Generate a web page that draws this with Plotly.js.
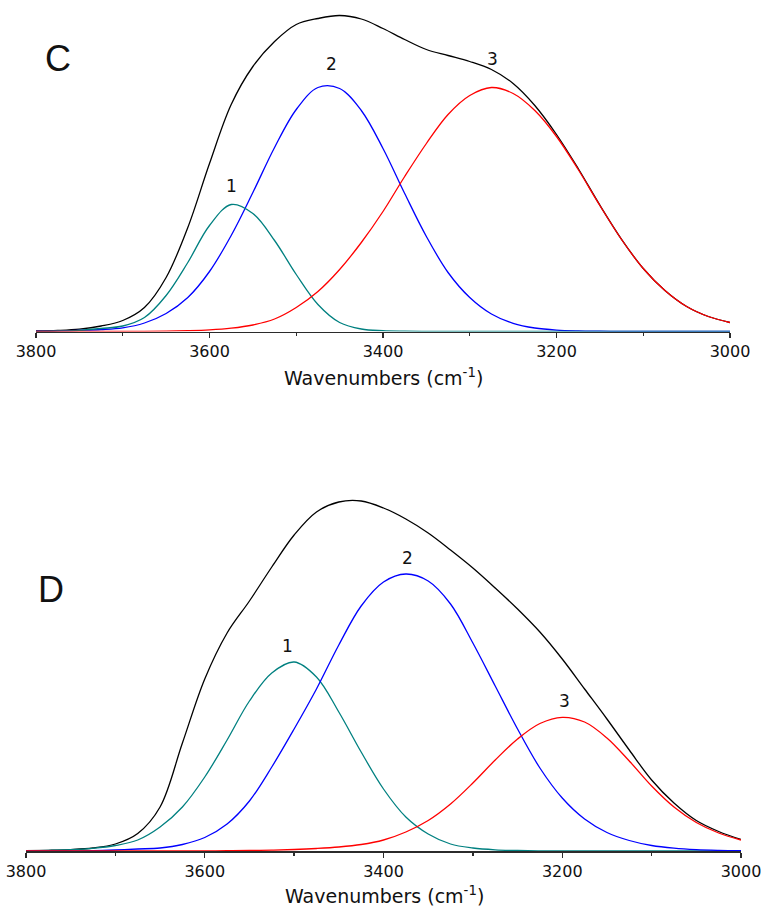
<!DOCTYPE html>
<html>
<head>
<meta charset="utf-8">
<script src="https://cdn.plot.ly/plotly-3.0.1.min.js"></script>
<style>html,body{margin:0;padding:0;background:#fff;}#chart{width:764px;height:910px;}</style>
</head>
<body>
<div id="chart"></div>
<script>
// Wavenumber samples (cm^-1)
const wavenumber = [3800,3775,3750,3725,3700,3675,3650,3625,3600,3575,3550,3525,3500,3475,3450,3425,3400,3375,3350,3325,3300,3275,3250,3225,3200,3175,3150,3125,3100,3075,3050,3025,3000];

// Panel C (arbitrary absorbance units)
const C_total = [0.5,1.1,2.4,5.5,11,24,54,104,168,227,265,290,307,313,316,312.5,303,292,282,276,270,262,248,226,197,163,126.3,92.2,63,41,25,15,9];
const C_band1 = [0.2,0.5,1.2,3,5.5,14,36,69,106,127,118,91,57,27,9,2.5,0.8,0.3,0.1,0,0,0,0,0,0,0,0,0,0,0,0,0,0];
const C_band2 = [0.3,0.6,1.2,2,3.7,8.5,18,34,60,96,139,184,222,244,243,221,183,138,95,59,34,17.5,8.2,3.5,1.4,0.6,0.3,0.1,0,0,0,0,0];
const C_band3 = [0,0,0,0.05,0.1,0.2,0.4,0.8,1.6,3.3,6.5,12.5,24,40,62,89,120,155,188,217,236,244,238,221,195,162,126,92,63,41,25,15,9];

// Panel D
const D_total = [0.3,0.7,1.4,3,7,17.5,44,108,172,218,250,284,316,339,349,350,343,332,318,301,283,263,242,219,192,162,132,101,71,48,30.5,19.5,11.5];
const D_band1 = [0.3,0.6,1.3,2.7,5.5,11,24,44,74,111,150,178,189,174,139,99,62,34,17,7,3,1.2,0.5,0.2,0.1,0,0,0,0,0,0,0,0];
const D_band2 = [0,0.05,0.1,0.3,1,2,3,6.5,13.5,27,50,84,122,162,206,245,269,277,270,247,208,165,122,83,53,32,18.5,10.5,5.5,2.8,1.3,0.6,0.3];
const D_band3 = [0,0,0,0,0,0,0.05,0.1,0.15,0.3,0.5,0.9,1.5,2.5,4,6.5,11,19,30.5,47,68,91,112,127.5,133.7,129,113,90,65,44,28.5,18,11];

// Axis ticks and labels
const tickValues = [3800,3600,3400,3200,3000];
const tickLabels = ['3800','3600','3400','3200','3000'];
const panelLabels = ['C','D'];
const bandLabels = ['1','2','3'];
const axisTitle = 'Wavenumbers (cm<sup>-1</sup>)';

const W = 764, H = 910;
const fx = x => x / W;
const fy = y => 1 - y / H;

const colors = {total:'#000000', b1:'#008080', b2:'#0000ff', b3:'#ff0000'};
function tr(y, color, xa, ya){
  return {x: wavenumber, y: y, type:'scatter', mode:'lines', xaxis:xa, yaxis:ya,
    line:{color:color, width:1.3, shape:'spline', smoothing:1}, hoverinfo:'skip', showlegend:false};
}
const data = [
  tr(C_total, colors.total, 'x', 'y'),
  tr(C_band2, colors.b2, 'x', 'y'),
  tr(C_band1, colors.b1, 'x', 'y'),
  tr(C_band3, colors.b3, 'x', 'y'),
  tr(D_total, colors.total, 'x2', 'y2'),
  tr(D_band1, colors.b1, 'x2', 'y2'),
  tr(D_band2, colors.b2, 'x2', 'y2'),
  tr(D_band3, colors.b3, 'x2', 'y2')
];

function xax(domain, anchor){
  return {domain:domain, range:[3800,3000], anchor:anchor, showline:true, linecolor:'#2b2b2b', linewidth:1.5,
    ticks:'outside', ticklen:5, tickwidth:1.3, tickcolor:'#2b2b2b', tickmode:'array', tickvals:tickValues, ticktext:tickLabels,
    tickfont:{family:'DejaVu Sans, Arial, sans-serif', size:16, color:'#111'},
    minor:{dtick:100, tick0:3000, ticks:'outside', ticklen:3, tickwidth:1.3, tickcolor:'#2b2b2b', showgrid:false},
    showgrid:false, zeroline:false, fixedrange:true, layer:'below traces'};
}
function yax(domain, range){
  return {domain:domain, range:range, visible:false, showgrid:false, zeroline:false, fixedrange:true};
}

const numFont = {family:'DejaVu Sans, Arial, sans-serif', size:17, color:'#111'};
const bigFont = {family:'Liberation Sans, Arial, sans-serif', size:36, color:'#111'};
const titleFont = {family:'DejaVu Sans, Arial, sans-serif', size:19, color:'#111'};
function ann(text, x, y, font){
  return {text:text, x:fx(x), y:fy(y), xref:'paper', yref:'paper', xanchor:'center', yanchor:'middle', showarrow:false, font:font};
}

const layout = {
  width:W, height:H, margin:{l:0, r:0, t:0, b:0},
  paper_bgcolor:'#fff', plot_bgcolor:'rgba(0,0,0,0)', showlegend:false,
  xaxis: xax([36/W, 730/W], 'y'),
  yaxis: yax([fy(331.5), 1], [0, 331.5]),
  xaxis2: xax([26/W, 741/W], 'y2'),
  yaxis2: yax([fy(851), fy(480)], [0, 371]),
  annotations: [
    ann(panelLabels[0], 57.5, 58.7, bigFont),
    ann(bandLabels[0], 231.7, 186.3, numFont),
    ann(bandLabels[1], 331, 63.7, numFont),
    ann(bandLabels[2], 492.3, 59.3, numFont),
    ann(axisTitle, 383.5, 377, titleFont),
    ann(panelLabels[1], 50.8, 589.2, bigFont),
    ann(bandLabels[0], 287.8, 646, numFont),
    ann(bandLabels[1], 407, 557.5, numFont),
    ann(bandLabels[2], 564.7, 700.7, numFont),
    ann(axisTitle, 384, 895, titleFont)
  ]
};

Plotly.newPlot('chart', data, layout, {displayModeBar:false, staticPlot:true});
</script>
</body>
</html>
